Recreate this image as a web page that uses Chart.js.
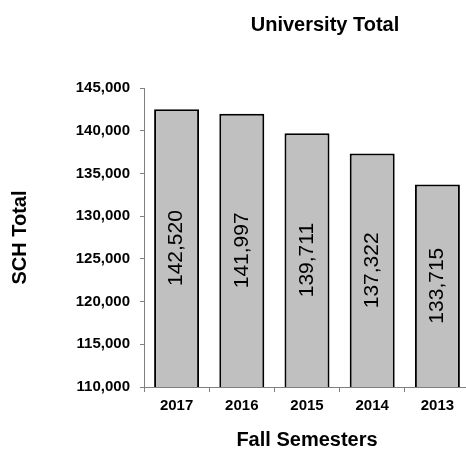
<!DOCTYPE html>
<html>
<head>
<meta charset="utf-8">
<script src="https://cdn.jsdelivr.net/npm/chart.js@4"></script>
<style>
  html, body { margin: 0; padding: 0; background: #fff; overflow: hidden; }
  canvas { display: block; }
</style>
</head>
<body>
<canvas id="c" width="472" height="452"></canvas>
<script>
const categories = ['2017', '2016', '2015', '2014', '2013'];
const schTotals = [142520, 141997, 139711, 137322, 133715];
const chartTitle = 'University Total';
const xTitle = 'Fall Semesters';
const yTitle = 'SCH Total';
const yMin = 110000, yMax = 145000, yStep = 5000;

const FONT = "'Liberation Sans', Arial, sans-serif";
const fmt = v => Number(v).toLocaleString('en-US');

const overlayPlugin = {
  id: 'overlayText',
  afterDraw(chart) {
    const ctx = chart.ctx;
    ctx.save();
    ctx.font = 'bold 20px ' + FONT;
    ctx.fillStyle = '#000000';
    ctx.textAlign = 'center';
    ctx.textBaseline = 'middle';
    ctx.fillText(chartTitle, 325, 25);
    ctx.restore();

    const xs = chart.scales.x, ys = chart.scales.y;
    const basePx = ys.getPixelForValue(yMin);
    categories.forEach((cat, i) => {
      const cx = xs.getPixelForValue(i);
      const cy = (ys.getPixelForValue(schTotals[i]) + basePx) / 2;
      ctx.save();
      ctx.font = '21px ' + FONT;
      ctx.fillStyle = '#000000';
      ctx.textAlign = 'center';
      ctx.textBaseline = 'middle';
      ctx.translate(cx, cy);
      ctx.rotate(-Math.PI / 2);
      ctx.fillText(fmt(schTotals[i]), 0, 0);
      ctx.restore();
    });
  }
};

new Chart(document.getElementById('c'), {
  type: 'bar',
  data: {
    labels: categories,
    datasets: [{
      data: schTotals,
      backgroundColor: '#c0c0c0',
      borderColor: '#000',
      borderWidth: 2,
      borderSkipped: false,
      barPercentage: 0.69,
      categoryPercentage: 1
    }]
  },
  options: {
    responsive: false,
    animation: false,
    layout: { padding: { top: 88, right: 2, bottom: 0, left: 0 } },
    plugins: {
      legend: { display: false },
      title: { display: false },
      tooltip: { enabled: false }
    },
    scales: {
      x: {
        afterFit(scale) { scale.height = 65; },
        grid: { display: true, drawOnChartArea: false, drawTicks: true, tickLength: 5, color: '#808080', offset: true },
        border: { display: true, color: '#808080', width: 1 },
        ticks: { color: '#000', font: { family: FONT, size: 15, weight: 'bold' }, padding: 5 },
        title: { display: true, text: xTitle, color: '#000', font: { family: FONT, size: 20, weight: 'bold' }, padding: { top: 0, bottom: 0 } }
      },
      y: {
        min: yMin,
        max: yMax,
        afterFit(scale) { scale.width = 144; },
        grid: { display: true, drawOnChartArea: false, drawTicks: true, tickLength: 4, color: '#808080' },
        border: { display: true, color: '#808080', width: 1 },
        ticks: { stepSize: yStep, color: '#000', padding: 10, font: { family: FONT, size: 15, weight: 'bold' }, callback: v => fmt(v) },
        title: { display: true, text: yTitle, color: '#000', font: { family: FONT, size: 20, weight: 'bold' }, padding: { top: 8, bottom: 0 } }
      }
    }
  },
  plugins: [overlayPlugin]
});
</script>
</body>
</html>
